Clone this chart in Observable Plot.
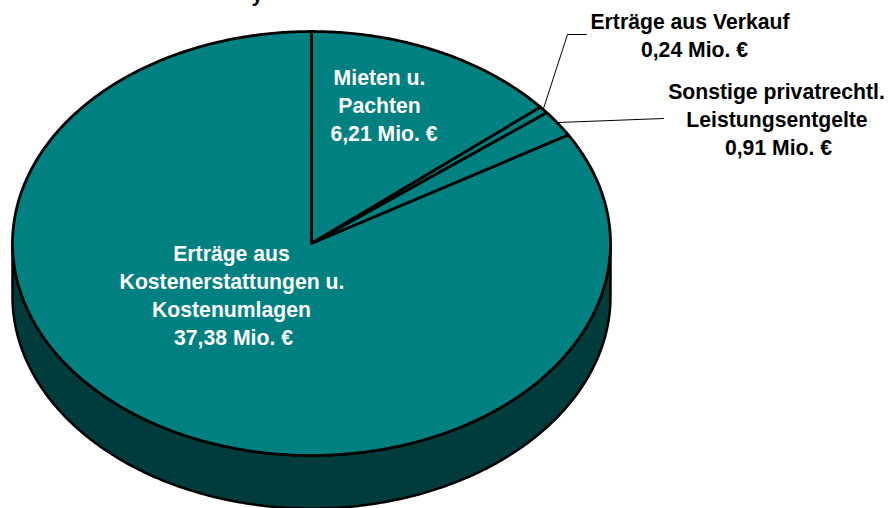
<!DOCTYPE html>
<html><head><meta charset="utf-8">
<script src="https://cdn.jsdelivr.net/npm/d3@7"></script>
<script src="https://cdn.jsdelivr.net/npm/@observablehq/plot@0.6"></script>
<style>html,body{margin:0;padding:0;background:#fff}svg{display:block}</style>
</head><body><div id="chart"></div>
<script>
const categories = ["Mieten u. Pachten","Erträge aus Verkauf","Sonstige privatrechtl. Leistungsentgelte","Erträge aus Kostenerstattungen u. Kostenumlagen"];
const values = [6.21,0.24,0.91,37.38];
const valueLabels = ["6,21 Mio. €","0,24 Mio. €","0,91 Mio. €","37,38 Mio. €"];

const W=893,H=508,cx=311,cy=243,rx=299,ry=212,depth=53;
const X=px=>(px-cx)/rx, Y=py=>(cy-py)/ry;
const total=d3.sum(values);
const pt=(a,dy=0)=>({x:Math.sin(a),y:Math.cos(a)+dy});
const deg=Math.PI/180;
const dz=-depth/ry;

// pie slices on the tilted disc
let cum=0; const slices=[];
values.forEach((v,i)=>{
  const a0=cum/total*2*Math.PI; cum+=v; const a1=cum/total*2*Math.PI;
  const n=Math.max(2,Math.ceil((a1-a0)/(0.5*deg)));
  const p=[{x:0,y:0,id:i}];
  for(let k=0;k<=n;k++){p.push({...pt(a0+(a1-a0)*k/n),id:i});}
  p.push({x:0,y:0,id:i});
  slices.push(...p);
});
// side wall
const side=[];
for(let k=90;k<=270;k+=0.5) side.push(pt(k*deg));
for(let k=270;k>=90;k-=0.5) side.push(pt(k*deg,dz));
side.push(side[0]);

const leaders=[
  {x:X(543),y:Y(108),g:0},{x:X(567),y:Y(34),g:0},{x:X(586),y:Y(34),g:0},
  {x:X(558),y:Y(122),g:1},{x:X(663),y:Y(118),g:1}
];
const font="'Liberation Sans',Arial,sans-serif";
const inner=[
  {x:X(379),y:Y(78),t:"Mieten u."},
  {x:X(379),y:Y(106),t:"Pachten"},
  {x:X(383.5),y:Y(134),t:valueLabels[0]},
  {x:X(231),y:Y(254),t:"Erträge aus"},
  {x:X(231.5),y:Y(282),t:"Kostenerstattungen u."},
  {x:X(231),y:Y(310),t:"Kostenumlagen"},
  {x:X(233),y:Y(338),t:valueLabels[3]}
];
const outer=[
  {x:X(689.5),y:Y(22),t:"Erträge aus Verkauf"},
  {x:X(694),y:Y(50),t:valueLabels[1]},
  {x:X(776),y:Y(92),t:"Sonstige privatrechtl."},
  {x:X(776.5),y:Y(120),t:"Leistungsentgelte"},
  {x:X(778),y:Y(148),t:valueLabels[2]}
];
const clipped=[{x:X(257),y:Y(-6),t:"y"}];

const chart=Plot.plot({
  width:W,height:H,margin:0,
  style:{background:"#fff",fontFamily:font},
  x:{domain:[-1,1],range:[cx-rx,cx+rx],axis:null},
  y:{domain:[-1,1],range:[cy+ry,cy-ry],axis:null},
  marks:[
    Plot.line(side,{x:"x",y:"y",fill:"#003c3c",stroke:"#000",strokeWidth:2.5,curve:"linear"}),
    Plot.line(slices,{x:"x",y:"y",z:"id",fill:"#008080",stroke:"#000",strokeWidth:2.8,curve:"linear",strokeLinejoin:"round"}),
    Plot.line(leaders,{x:"x",y:"y",z:"g",stroke:"#000",strokeWidth:1,curve:"linear"}),
    Plot.text(inner,{x:"x",y:"y",text:"t",fill:"#fff",fontSize:21.2,fontWeight:"bold",textAnchor:"middle",fontFamily:font}),
    Plot.text(outer,{x:"x",y:"y",text:"t",fill:"#000",fontSize:21.2,fontWeight:"bold",textAnchor:"middle",fontFamily:font}),
    Plot.text(clipped,{x:"x",y:"y",text:"t",fill:"#000",fontSize:21.2,fontWeight:"bold",fontFamily:font})
  ]
});
document.getElementById("chart").appendChild(chart);
</script></body></html>
